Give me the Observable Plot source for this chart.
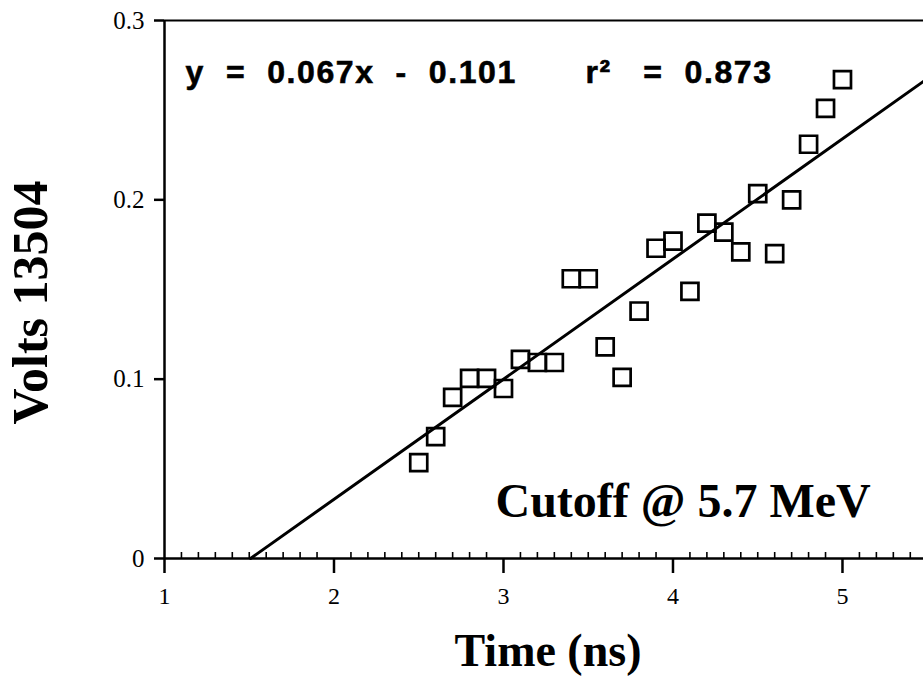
<!DOCTYPE html>
<html>
<head>
<meta charset="utf-8">
<script src="https://cdn.jsdelivr.net/npm/d3@7"></script>
<script src="https://cdn.jsdelivr.net/npm/@observablehq/plot@0.6"></script>
<style>
  html, body { margin: 0; padding: 0; background: white; }
</style>
</head>
<body>
<div id="chart"></div>
<script>
// ---- data ----
const timeNs = [2.5, 2.6, 2.7, 2.8, 2.9, 3.0, 3.1, 3.2, 3.3, 3.4, 3.5, 3.6, 3.7,
                3.8, 3.9, 4.0, 4.1, 4.2, 4.3, 4.4, 4.5, 4.6, 4.7, 4.8, 4.9, 5.0];
const volts  = [0.0535, 0.068, 0.0898, 0.1004, 0.1004, 0.0948, 0.111, 0.1093, 0.1093,
                0.156, 0.156, 0.118, 0.101, 0.138, 0.173, 0.177, 0.149, 0.187,
                0.182, 0.171, 0.2035, 0.170, 0.200, 0.231, 0.251, 0.267];
const fitSlope = 0.067;
const fitIntercept = -0.101;
const xTicks = [1, 2, 3, 4, 5];
const xTickLabels = ["1", "2", "3", "4", "5"];
const yTicks = [0, 0.1, 0.2, 0.3];
const yTickLabels = ["0", "0.1", "0.2", "0.3"];
const xLabel = "Time (ns)";
const yLabel = "Volts 13504";
const eqText = "y\u00a0\u00a0=\u00a0\u00a00.067x\u00a0\u00a0-\u00a0\u00a00.101";
const r2Text = "r\u00b2\u00a0\u00a0\u00a0=\u00a0\u00a00.873";
const cutoffText = "Cutoff @ 5.7 MeV";

const xMax = 5.478;
const minorTicks = d3.range(11, 55).filter(d => d % 10 !== 0).map(d => d / 10);

const points = timeNs.map((t, i) => ({t, v: volts[i]}));
const x0 = -fitIntercept / fitSlope;
const fitLine = [x0, xMax].map(t => ({t, v: fitSlope * t + fitIntercept}));

const serif = "'Liberation Serif', 'Times New Roman', Times, serif";
const sans = "'Liberation Sans', Arial, Helvetica, sans-serif";

const chart = Plot.plot({
  width: 923,
  height: 677,
  marginLeft: 164,
  marginRight: 0,
  marginTop: 20,
  marginBottom: 119,
  x: {domain: [1, xMax], axis: null},
  y: {domain: [0, 0.3], axis: null},
  style: {fontFamily: serif, background: "white", color: "black", overflow: "visible"},
  marks: [
    // major ticks (outside) and minor ticks (inside)
    Plot.ruleY(yTicks, {y: d => d, x1: 1, x2: 1, insetLeft: -10, strokeWidth: 2.5}),
    Plot.ruleX(xTicks, {x: d => d, y1: 0, y2: 0, insetBottom: -15, strokeWidth: 2.5}),
    Plot.ruleX(minorTicks, {x: d => d, y1: 0, y2: 0, insetTop: -6, strokeWidth: 1.6}),
    // tick labels
    Plot.text(yTicks, {y: d => d, text: (d, i) => yTickLabels[i], frameAnchor: "left", textAnchor: "end",
      lineAnchor: "middle", dx: -20, fontSize: 25}),
    Plot.text(xTicks, {x: d => d, text: (d, i) => xTickLabels[i], frameAnchor: "bottom", textAnchor: "middle",
      lineAnchor: "top", dy: 28, fontSize: 24}),
    // frame
    Plot.ruleY([0], {strokeWidth: 2.5}),
    Plot.ruleY([0.3], {strokeWidth: 2.2}),
    Plot.ruleX([1], {strokeWidth: 2.5}),
    // data and fit
    Plot.dot(points, {x: "t", y: "v", symbol: "square", r: 9.6, stroke: "black", strokeWidth: 2.7, fill: "none"}),
    Plot.line(fitLine, {x: "t", y: "v", stroke: "black", strokeWidth: 3}),
    // annotations
    Plot.text([eqText], {text: d => d, frameAnchor: "top-left", textAnchor: "start", lineAnchor: "bottom",
      dx: 21, dy: 62, fontFamily: sans, fontWeight: "bold", fontSize: 32}),
    Plot.text([r2Text], {text: d => d, frameAnchor: "top-left", textAnchor: "start", lineAnchor: "bottom",
      dx: 421, dy: 62, fontFamily: sans, fontWeight: "bold", fontSize: 32}),
    Plot.text([cutoffText], {text: d => d, frameAnchor: "bottom-left", textAnchor: "start", lineAnchor: "bottom",
      dx: 331, dy: -42, fontSize: 48, fontWeight: "bold"}),
    // axis titles
    Plot.text([xLabel], {text: d => d, frameAnchor: "bottom", lineAnchor: "bottom",
      dx: 4, dy: 107, fontSize: 46, fontWeight: "bold"}),
    Plot.text([yLabel], {text: d => d, frameAnchor: "left", textAnchor: "middle", lineAnchor: "middle", rotate: -90,
      dx: -134, dy: 13, fontSize: 50, fontWeight: "bold"})
  ]
});
// heavier, slightly spaced lettering for the fit annotation
d3.select(chart).selectAll("text")
  .filter(function() { return this.textContent === eqText || this.textContent === r2Text; })
  .style("letter-spacing", "1.6px")
  .style("stroke", "black")
  .style("stroke-width", "0.6px");
document.getElementById("chart").appendChild(chart);
</script>
</body>
</html>
